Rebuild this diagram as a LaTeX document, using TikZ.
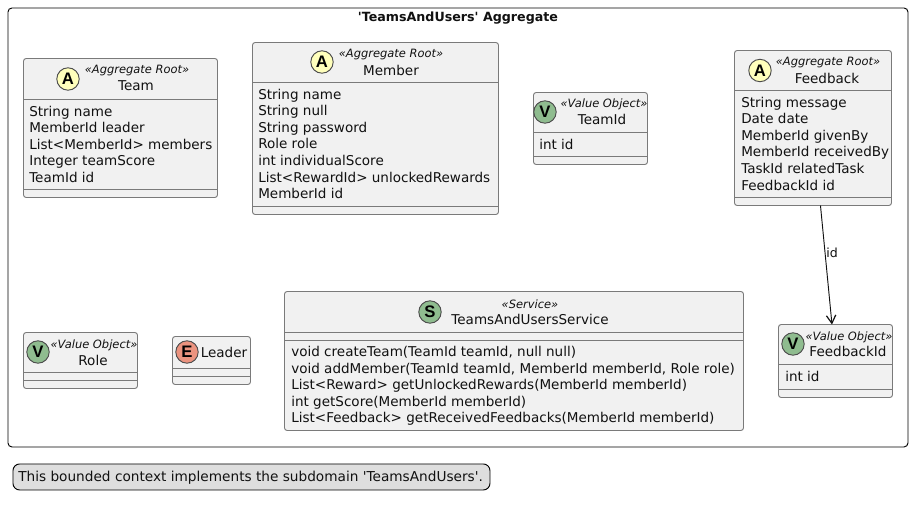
\documentclass[tikz,border=0pt]{standalone}
\usepackage{fontspec}
\setmainfont{DejaVu Sans}
\newfontfamily\badgefont{Liberation Sans}
\usetikzlibrary{arrows.meta}
\definecolor{boxfill}{HTML}{F1F1F1}
\definecolor{boxline}{HTML}{7A7A7A}
\definecolor{ink}{HTML}{111111}
\definecolor{badgeA}{HTML}{FFFFBC}
\definecolor{badgeV}{HTML}{8FBC8F}
\definecolor{badgeE}{HTML}{EB937F}
\tikzset{
  x=0.75pt,y=-0.75pt,
  classbox/.style={draw=boxline,fill=boxfill,line width=0.7pt,rounded corners=2pt,anchor=north west,inner sep=0pt,outer sep=0pt},
  sepline/.style={draw=boxline,line width=0.7pt},
  badge/.style={circle,draw=ink!75,line width=0.7pt,minimum size=16.8pt,inner sep=0pt,text=black,font=\badgefont\fontsize{12.5}{13}\selectfont\bfseries},
  stereo/.style={inner sep=0pt,font=\fontsize{8.6}{10}\selectfont\itshape,text=ink},
  title/.style={inner sep=0pt,font=\fontsize{10.15}{12}\selectfont,text=ink},
  field/.style={inner sep=0pt,anchor=west,font=\fontsize{10.15}{12}\selectfont,text=ink,text height=8pt,text depth=2pt},
}
\newcommand{\umlbox}[7]{% name x0 y0 x1 y1 sep1 sep2
  \pgfmathsetmacro{\bw}{(#4-#2)*0.75}\pgfmathsetmacro{\bh}{(#5-#3)*0.75}
  \node[classbox,minimum width=\bw pt,minimum height=\bh pt] (#1) at (#2,#3) {};
  \draw[sepline] (#2,#6) -- (#4,#6);
  \draw[sepline] (#2,#7) -- (#4,#7);
}
\begin{document}
\begin{tikzpicture}
\useasboundingbox (0,0) rectangle (913,508);
\fill[white] (0,0) rectangle (913,508);
\node[draw=black,line width=0.7pt,rounded corners=3pt,anchor=north west,inner sep=0pt,minimum width=675pt,minimum height=329.25pt] (pkg) at (7.5,7.5) {};
\node[inner sep=0pt,font=\fontsize{9.5}{12}\selectfont\bfseries,text=ink] (pkgtitle) at (458,18.5) {\textquotesingle TeamsAndUsers\textquotesingle{} Aggregate};

% Team
\umlbox{team}{23.5}{58.5}{217.5}{197.5}{99.5}{189.5}
\node[badge,fill=badgeA] (teamB) at (68,79) {A};
\node[stereo] (teamS) at (137,71) {«Aggregate Root»};
\node[title] (teamT) at (136,86) {Team};
\node[field] (team1) at (29,112) {String name};
\node[field] (team2) at (29,128) {MemberId leader};
\node[field] (team3) at (29,145) {List<MemberId> members};
\node[field] (team4) at (29,161) {Integer teamScore};
\node[field] (team5) at (29,178) {TeamId id};

% Member
\umlbox{member}{252.5}{42.5}{498.5}{214.5}{82.5}{206.5}
\node[badge,fill=badgeA] (memberB) at (322,62) {A};
\node[stereo] (memberS) at (391,55) {«Aggregate Root»};
\node[title] (memberT) at (391,70) {Member};
\node[field] (member1) at (258,95) {String name};
\node[field] (member2) at (258,111) {String null};
\node[field] (member3) at (258,128) {String password};
\node[field] (member4) at (258,144) {Role role};
\node[field] (member5) at (258,161) {int individualScore};
\node[field] (member6) at (258,178) {List<RewardId> unlockedRewards};
\node[field] (member7) at (258,194) {MemberId id};

% TeamId
\umlbox{teamid}{533.5}{92.5}{647.5}{164.5}{132.5}{156.5}
\node[badge,fill=badgeV] (teamidB) at (545,112) {V};
\node[stereo] (teamidS) at (604,104) {«Value Object»};
\node[title] (teamidT) at (602,119) {TeamId};
\node[field] (teamid1) at (539,145) {int id};

% Feedback
\umlbox{feedback}{734.5}{50.5}{891.5}{205.5}{90.5}{197.5}
\node[badge,fill=badgeA] (feedbackB) at (760,70.5) {A};
\node[stereo] (feedbackS) at (828,63) {«Aggregate Root»};
\node[title] (feedbackT) at (827,78) {Feedback};
\node[field] (feedback1) at (741,103) {String message};
\node[field] (feedback2) at (741,119) {Date date};
\node[field] (feedback3) at (741,136) {MemberId givenBy};
\node[field] (feedback4) at (741,152) {MemberId receivedBy};
\node[field] (feedback5) at (741,169) {TaskId relatedTask};
\node[field] (feedback6) at (741,186) {FeedbackId id};

% Role
\umlbox{role}{23.5}{332.5}{137.5}{388.5}{372.5}{380.5}
\node[badge,fill=badgeV] (roleB) at (38,352) {V};
\node[stereo] (roleS) at (94,345) {«Value Object»};
\node[title] (roleT) at (93,360) {Role};

% Leader
\umlbox{leader}{172.5}{336.5}{250.5}{384.5}{368.5}{376.5}
\node[badge,fill=badgeE] (leaderB) at (187,352) {E};
\node[title] (leaderT) at (224,352.5) {Leader};

% Service
\umlbox{service}{284.5}{291.5}{743.5}{430.5}{332.5}{340.5}
\node[badge,fill=badgeV] (serviceB) at (430,312) {S};
\node[stereo] (serviceS) at (530,304) {«Service»};
\node[title] (serviceT) at (530,319) {TeamsAndUsersService};
\node[field] (service1) at (291,352) {void createTeam(TeamId teamId, null null)};
\node[field] (service2) at (291,369) {void addMember(TeamId teamId, MemberId memberId, Role role)};
\node[field] (service3) at (291,385) {List<Reward> getUnlockedRewards(MemberId memberId)};
\node[field] (service4) at (291,402) {int getScore(MemberId memberId)};
\node[field] (service5) at (291,418) {List<Feedback> getReceivedFeedbacks(MemberId memberId)};

% FeedbackId
\umlbox{feedbackid}{778.5}{324.5}{892.5}{397.5}{364.5}{389.5}
\node[badge,fill=badgeV] (feedbackidB) at (793,344) {V};
\node[stereo] (feedbackidS) at (849,337) {«Value Object»};
\node[title] (feedbackidT) at (848,351) {FeedbackId};
\node[field] (feedbackid1) at (785,377) {int id};

% connector
\draw[-{Straight Barb[length=6pt,width=7pt,line width=0.9pt]},draw=ink,line width=0.7pt] (feedback) -- (feedbackid);
\node[inner sep=1pt,font=\fontsize{9.4}{12}\selectfont,text=ink] (idlabel) at (832,253) {id};

% note
\node[draw=black,fill=black!13,line width=0.7pt,rounded corners=5pt,anchor=north west,inner sep=0pt,minimum width=357.75pt,minimum height=19.5pt] (note) at (12.5,463.5) {};
\node[field,font=\fontsize{10.25}{12}\selectfont] (notetext) at (18,477) {This bounded context implements the subdomain \textquotesingle TeamsAndUsers\textquotesingle.};
\end{tikzpicture}
\end{document}
